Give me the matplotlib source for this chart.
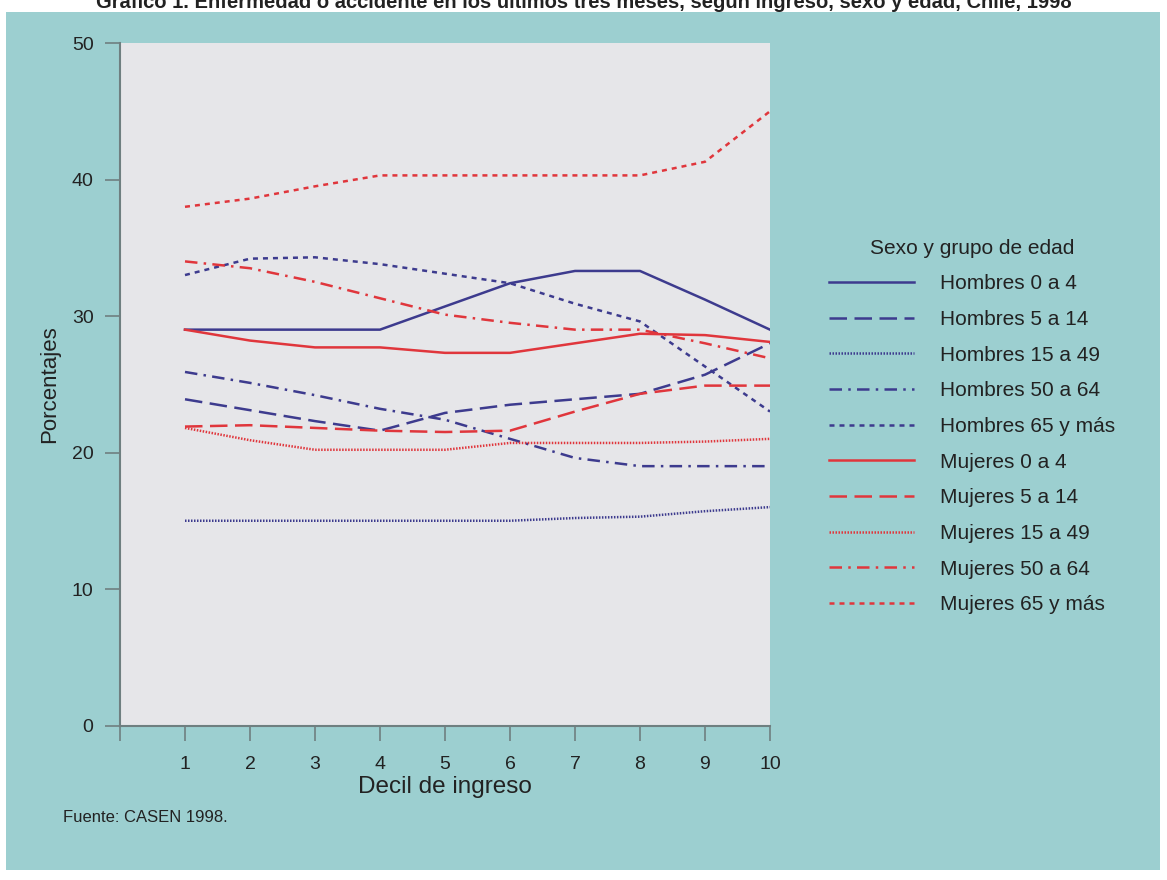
import matplotlib
matplotlib.use("Agg")
import matplotlib.pyplot as plt
from matplotlib.patches import Rectangle

plt.rcParams['font.family'] = ['Liberation Sans', 'DejaVu Sans']

deciles = [1, 2, 3, 4, 5, 6, 7, 8, 9, 10]

hombres_0_4 = [29.0, 29.0, 29.0, 29.0, 30.7, 32.4, 33.3, 33.3, 31.2, 29.0]
hombres_5_14 = [23.9, 23.1, 22.3, 21.6, 22.9, 23.5, 23.9, 24.3, 25.7, 28.0]
hombres_15_49 = [15.0, 15.0, 15.0, 15.0, 15.0, 15.0, 15.2, 15.3, 15.7, 16.0]
hombres_50_64 = [25.9, 25.1, 24.2, 23.2, 22.4, 21.0, 19.6, 19.0, 19.0, 19.0]
hombres_65 = [33.0, 34.2, 34.3, 33.8, 33.1, 32.4, 30.9, 29.6, 26.3, 23.0]
mujeres_0_4 = [29.0, 28.2, 27.7, 27.7, 27.3, 27.3, 28.0, 28.7, 28.6, 28.1]
mujeres_5_14 = [21.9, 22.0, 21.8, 21.6, 21.5, 21.6, 23.0, 24.3, 24.9, 24.9]
mujeres_15_49 = [21.8, 20.9, 20.2, 20.2, 20.2, 20.7, 20.7, 20.7, 20.8, 21.0]
mujeres_50_64 = [34.0, 33.5, 32.5, 31.3, 30.1, 29.5, 29.0, 29.0, 28.0, 26.9]
mujeres_65 = [38.0, 38.6, 39.5, 40.3, 40.3, 40.3, 40.3, 40.3, 41.3, 45.0]

series = [
    ("Hombres 0 a 4", hombres_0_4),
    ("Hombres 5 a 14", hombres_5_14),
    ("Hombres 15 a 49", hombres_15_49),
    ("Hombres 50 a 64", hombres_50_64),
    ("Hombres 65 y más", hombres_65),
    ("Mujeres 0 a 4", mujeres_0_4),
    ("Mujeres 5 a 14", mujeres_5_14),
    ("Mujeres 15 a 49", mujeres_15_49),
    ("Mujeres 50 a 64", mujeres_50_64),
    ("Mujeres 65 y más", mujeres_65),
]

azul = "#3d3b8e"
rojo = "#e0363c"
estilos = ["-", (0, (7, 3)), (0, (0.6, 0.6)), (0, (5, 2.5, 1, 2.5)), (0, (2, 2))]

teal = "#9ccfd0"
fig = plt.figure(figsize=(11.67, 8.8), dpi=100, facecolor="white")
# fondo turquesa detras de todo
fondo = Rectangle((6 / 1167, 10 / 880), 1154 / 1167, 858 / 880,
                  transform=fig.transFigure, facecolor=teal,
                  edgecolor="none", zorder=-10)
fig.patches.append(fondo)

fig.text(0.5, 0.997, "Gráfico 1. Enfermedad o accidente en los últimos tres meses, según ingreso, sexo y edad, Chile, 1998",
         ha="center", va="center", fontsize=14.5, fontweight="bold", color="#222222")

ax = fig.add_axes([120 / 1167, 1 - 725.5 / 880, 650 / 1167, 682.5 / 880])
ax.set_facecolor("#e6e6e9")

for i, (nombre, valores) in enumerate(series):
    color = azul if i < 5 else rojo
    ax.plot(deciles, valores, color=color, linestyle=estilos[i % 5],
            linewidth=1.8, label=nombre)

ax.set_xlim(0, 10)
ax.set_ylim(0, 50)
ax.set_xticks(range(0, 11))
ax.set_xticklabels([""] + [str(d) for d in deciles])
ax.set_yticks(range(0, 51, 10))

for lado in ["top", "right"]:
    ax.spines[lado].set_visible(False)
for lado in ["left", "bottom"]:
    ax.spines[lado].set_color("#6f7f80")
    ax.spines[lado].set_linewidth(1.5)

ax.tick_params(axis="x", length=11, width=1.2, color="#6f7f80", pad=11, labelsize=14, labelcolor="#222222")
ax.tick_params(axis="y", length=11, width=1.2, color="#6f7f80", pad=8, labelsize=14, labelcolor="#222222")

ax.set_xlabel("Decil de ingreso", fontsize=17.5, color="#222222", labelpad=2)
ax.set_ylabel("Porcentajes", fontsize=16, color="#222222", labelpad=8)

leg = ax.legend(title="Sexo y grupo de edad", loc="upper left",
                bbox_to_anchor=(810 / 1167, 1 - 220 / 880), bbox_transform=fig.transFigure,
                frameon=False, fontsize=15, title_fontsize=15,
                handlelength=4.1, handletextpad=1.25, labelspacing=0.8)
for t in leg.get_texts():
    t.set_color("#222222")
leg.get_title().set_color("#222222")

fig.text(63 / 1167, 1 - 817 / 880, "Fuente: CASEN 1998.", fontsize=12, color="#222222",
         ha="left", va="center")

fig.savefig("out.png", dpi=100, facecolor=fig.get_facecolor())
